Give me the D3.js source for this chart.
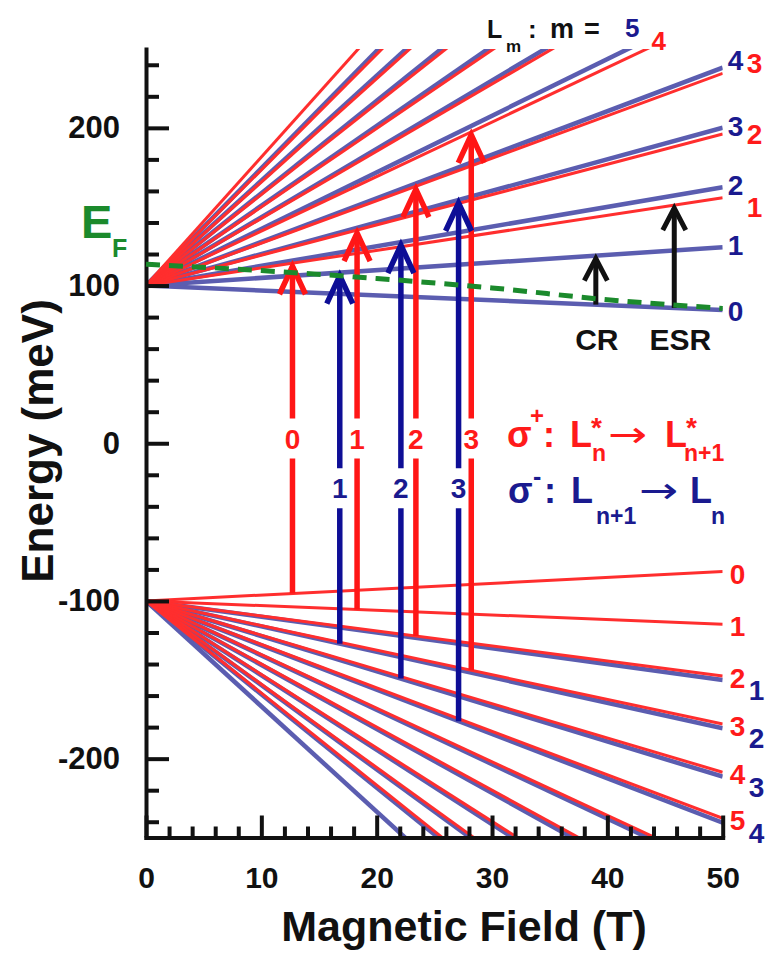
<!DOCTYPE html>
<html lang="en">

<head>
  <meta charset="UTF-8">
  <title>Landau levels vs magnetic field</title>
  <style>
    body {
      margin: 0;
      background: #fff;
    }

    svg {
      display: block;
      font-family: 'Liberation Sans', Arial, sans-serif;
      font-weight: bold;
    }

    .axis path,
    .axis line {
      stroke: #111;
      stroke-width: 4;
    }

    .axis .domain {
      stroke-linecap: square;
    }

    .axis text {
      fill: #111;
      font-family: 'Liberation Sans', Arial, sans-serif;
      font-weight: bold;
    }
  </style>
</head>

<body>
  <svg></svg>
</body>
<script src="https://cdn.jsdelivr.net/npm/d3@7"></script>
<script>

  // field range and the two fan origins (meV at B = 0)
  let fieldMax = 50;
  let upperStart = 100;
  let lowerStart = -100;

  // energy of each level at B = 50 T (levels past the frame get clipped)
  let upperBlueN = [0, 1, 2, 3, 4, 5, 6, 7, 8, 9, 10];
  let upperBlueE50 = [84.5, 124.3, 162.3, 200.1, 238.2, 279.5, 316.8, 353, 393, 432.6, 472];
  let upperRedN = [1, 2, 3, 4, 5, 6, 7, 8, 9, 10];
  let upperRedE50 = [155.7, 196.1, 234.6, 272.8, 313, 349, 388.5, 428, 466.7, 507.6];
  let lowerRedN = [0, 1, 2, 3, 4, 5, 6, 7, 8, 9, 10];
  let lowerRedE50 = [-81.4, -114.8, -147.6, -178, -208.6, -237.8, -270, -300, -333, -364, -392];
  let lowerBlueN = [1, 2, 3, 4, 5, 6, 7, 8, 9, 10];
  let lowerBlueE50 = [-150.1, -180.7, -211.4, -240.6, -272.5, -303, -336, -367, -396, -434];

  // Fermi level (green dashed)
  let fermiB = [0, 10, 20, 30, 40, 50];
  let fermiE = [113.5, 109.5, 104.5, 98.5, 91, 85.5];

  // optical transitions: field where each arrow is drawn
  let sigmaPlusN = [0, 1, 2, 3];      // L*n -> L*n+1
  let sigmaPlusB = [12.7, 18.3, 23.4, 28.2];
  let sigmaMinusN = [1, 2, 3];        // Ln+1 -> Ln
  let sigmaMinusB = [16.8, 22.1, 27.1];
  let crB = 39;
  let esrB = 45.8;

  // ticks
  let yMajor = [-200, -100, 0, 100, 200];
  let yMinor = d3.range(-240, 241, 20).filter(v => v % 100 !== 0);
  let xMajor = [0, 10, 20, 30, 40, 50];
  let xMinor = d3.range(2, 50, 2).filter(v => v % 10 !== 0);

  let blueLine = '#5b5db0',
    redLine = '#ff2e2e',
    blueArrow = '#0e0e96',
    redArrow = '#ff1616',
    blueText = '#1a1a8f',
    redText = '#ff1a1a',
    green = '#1b8a2c',
    black = '#111';

  let width = 778,
    height = 959;

  let svg = d3.select('svg')
    .attr('width', width)
    .attr('height', height);

  let x = d3.scaleLinear().domain([0, fieldMax]).range([146, 722.7]);
  let y = d3.scaleLinear().domain([-250, 250]).range([837.5, 49]);

  svg.append('defs').append('clipPath')
    .attr('id', 'plot')
    .append('rect')
    .attr('x', x(0))
    .attr('y', y(250))
    .attr('width', x(fieldMax) - x(0))
    .attr('height', y(-250) - y(250));

  function energyAt(e0, e50, B) {
    return e0 + (e50 - e0) * B / fieldMax;
  }

  function level(set, n) {
    if (set === 'upperBlue') return { e0: upperStart, e50: upperBlueE50[upperBlueN.indexOf(n)] };
    if (set === 'upperRed') return { e0: upperStart, e50: upperRedE50[upperRedN.indexOf(n)] };
    if (set === 'lowerBlue') return { e0: lowerStart, e50: lowerBlueE50[lowerBlueN.indexOf(n)] };
    return { e0: lowerStart, e50: lowerRedE50[lowerRedN.indexOf(n)] };
  }

  function levelE(set, n, B) {
    let l = level(set, n);
    return energyAt(l.e0, l.e50, B);
  }

  // field where a level leaves the frame through the top
  function topCross(set, n) {
    let l = level(set, n);
    return fieldMax * (250 - l.e0) / (l.e50 - l.e0);
  }

  // ---- Landau levels ----
  let levels = [];
  upperBlueN.forEach((n, i) => levels.push({ kind: 'blue', e0: upperStart, e50: upperBlueE50[i] }));
  lowerBlueN.forEach((n, i) => levels.push({ kind: 'blue', e0: lowerStart, e50: lowerBlueE50[i] }));
  upperRedN.forEach((n, i) => levels.push({ kind: 'red', e0: upperStart, e50: upperRedE50[i] }));
  lowerRedN.forEach((n, i) => levels.push({ kind: 'red', e0: lowerStart, e50: lowerRedE50[i] }));

  let gLevels = svg.append('g').attr('clip-path', 'url(#plot)');

  gLevels.selectAll('.level')
    .data(levels)
    .enter()
    .append('line')
    .attr('class', d => 'level ' + d.kind)
    .attr('x1', x(0))
    .attr('y1', d => y(d.e0))
    .attr('x2', x(fieldMax))
    .attr('y2', d => y(d.e50))
    .attr('stroke', d => d.kind === 'blue' ? blueLine : redLine)
    .attr('stroke-width', d => d.kind === 'blue' ? 4.5 : 3);

  // ---- axes ----
  let gy = svg.append('g')
    .attr('class', 'axis')
    .attr('transform', `translate(${x(0)},0)`);

  gy.call(d3.axisLeft(y)
    .tickValues(yMajor)
    .tickSizeInner(-23)
    .tickSizeOuter(0)
    .tickPadding(26)
    .tickFormat(d => String(d)));

  gy.selectAll('text').style('font-size', '31px');

  gy.append('g')
    .call(d3.axisLeft(y).tickValues(yMinor).tickSize(-13).tickFormat(''))
    .call(g => g.select('.domain').remove());

  let gx = svg.append('g')
    .attr('class', 'axis')
    .attr('transform', `translate(0,${y(-250)})`);

  gx.call(d3.axisBottom(x)
    .tickValues(xMajor)
    .tickSizeInner(-22)
    .tickSizeOuter(0)
    .tickPadding(29)
    .tickFormat(d => String(d)));

  gx.selectAll('text').style('font-size', '30px');

  gx.append('g')
    .call(d3.axisBottom(x).tickValues(xMinor).tickSize(-11).tickFormat(''))
    .call(g => g.select('.domain').remove());

  function txt(px, py, s, size, color, anchor) {
    return svg.append('text')
      .attr('x', px)
      .attr('y', py)
      .attr('text-anchor', anchor || 'start')
      .style('font-size', size + 'px')
      .attr('fill', color)
      .text(s);
  }

  // one text element built from absolutely placed pieces (sub/superscripts)
  function rich(color, parts) {
    let t = svg.append('text').attr('fill', color);
    parts.forEach(p => {
      t.append('tspan')
        .attr('x', p[0])
        .attr('y', p[1])
        .style('font-size', p[3] + 'px')
        .text(p[2]);
    });
    return t;
  }

  // long arrow glyph, a bit stretched like the one in the figure
  function longArrow(px, py, color) {
    svg.append('text')
      .attr('transform', `translate(${px},${py}) scale(1.3,1)`)
      .style('font-family', "'DejaVu Sans', sans-serif")
      .style('font-weight', 'normal')
      .style('font-size', '36px')
      .attr('fill', color)
      .text('→');
  }

  svg.append('text')
    .attr('transform', 'translate(53,441) rotate(-90)')
    .attr('text-anchor', 'middle')
    .style('font-size', '44px')
    .attr('fill', black)
    .text('Energy (meV)');

  txt(464, 941, 'Magnetic Field (T)', 43, black, 'middle');

  // ---- arrows ----
  let gArrows = svg.append('g');

  function arrow(B, eFrom, eTo, color, sw, headW, headH, label, labelE) {
    let ax = x(B),
      y0 = y(eFrom),
      tip = y(eTo) + 3;

    let segs = [[y0, tip]];
    if (label !== undefined) {
      let ly = y(labelE);
      segs = [[y0, ly + 20], [ly - 20, tip]];
      txt(ax, ly, label, 28, color === redArrow ? redText : blueText, 'middle')
        .attr('dy', '0.36em');
    }

    segs.forEach(s => {
      gArrows.append('line')
        .attr('x1', ax).attr('x2', ax)
        .attr('y1', s[0]).attr('y2', s[1])
        .attr('stroke', color)
        .attr('stroke-width', sw);
    });

    gArrows.append('path')
      .attr('d', `M${ax - headW},${tip + headH}L${ax},${tip}L${ax + headW},${tip + headH}`)
      .attr('fill', 'none')
      .attr('stroke', color)
      .attr('stroke-width', sw)
      .attr('stroke-linejoin', 'miter');
  }

  sigmaPlusN.forEach((n, i) => {
    let B = sigmaPlusB[i];
    arrow(B, levelE('lowerRed', n, B), levelE('upperRed', n + 1, B), redArrow, 5.5, 13, 28, String(n), 3);
  });

  sigmaMinusN.forEach((n, i) => {
    let B = sigmaMinusB[i];
    arrow(B, levelE('lowerBlue', n + 1, B), levelE('upperBlue', n, B), blueArrow, 5.5, 13, 28, String(n), -28.5);
  });

  arrow(crB, levelE('upperBlue', 0, crB), levelE('upperBlue', 1, crB), black, 5, 11.5, 22);
  arrow(esrB, levelE('upperBlue', 0, esrB), levelE('upperRed', 1, esrB), black, 5, 11.5, 22);

  txt(x(crB) + 1, 350, 'CR', 30, black, 'middle');
  txt(x(esrB) + 6, 350, 'ESR', 30, black, 'middle');

  // ---- Fermi level ----
  let fermiLine = d3.line()
    .x((d, i) => x(fermiB[i]))
    .y(d => y(d))
    .curve(d3.curveMonotoneX);

  svg.append('path')
    .datum(fermiE)
    .attr('d', fermiLine)
    .attr('fill', 'none')
    .attr('stroke', green)
    .attr('stroke-width', 5)
    .attr('stroke-dasharray', '14,9');

  rich(green, [[81, 238, 'E', 47], [112, 257, 'F', 25]]);

  // ---- level labels on the right ----
  let xr = x(fieldMax);
  let upperBlueLabels = [0, 1, 2, 3, 4];
  let upperBlueNudge = [1, -2, -2, -2, -8];
  let upperRedLabels = [1, 2, 3];
  let upperRedNudge = [9, 0, -10];

  upperBlueLabels.forEach((n, i) => {
    txt(xr + 5, y(levelE('upperBlue', n, fieldMax)) + upperBlueNudge[i], String(n), 28, blueText)
      .attr('dy', '0.36em');
  });
  upperRedLabels.forEach((n, i) => {
    txt(xr + 24, y(levelE('upperRed', n, fieldMax)) + upperRedNudge[i], String(n), 28, redText)
      .attr('dy', '0.36em');
  });

  let lowerRedLabels = [0, 1, 2, 3, 4, 5];
  let lowerBlueLabels = [1, 2, 3, 4];

  lowerRedLabels.forEach(n => {
    txt(xr + 7, y(levelE('lowerRed', n, fieldMax)) + 2, String(n), 28, redText)
      .attr('dy', '0.36em');
  });
  lowerBlueLabels.forEach(n => {
    txt(xr + 26, y(levelE('lowerBlue', n, fieldMax)) + 10, String(n), 28, blueText)
      .attr('dy', '0.36em');
  });

  // top: L_m: m = 5 4
  rich(black, [[487, 38, 'L', 25], [506, 52, 'm', 17], [528, 38, ':', 26], [550, 38, 'm', 27], [584, 38, '=', 27]]);
  txt(x(topCross('upperBlue', 5)) - 3, 37, '5', 26, blueText);
  txt(x(topCross('upperRed', 4)) + 5, 50, '4', 26, redText);

  // ---- selection rules ----
  rich(redText, [[507, 447, 'σ', 36], [530, 424, '+', 24], [543, 447, ':', 36],
    [570, 447, 'L', 36], [591, 437, '*', 28], [592, 461, 'n', 23]]);
  longArrow(608, 447, redText);
  rich(redText, [[665, 447, 'L', 36], [686, 437, '*', 28], [684, 461, 'n+1', 23]]);

  rich(blueText, [[508, 503, 'σ', 36], [533, 485, '-', 25], [544, 503, ':', 36],
    [571, 503, 'L', 36], [596, 524, 'n+1', 23]]);
  longArrow(639, 503, blueText);
  rich(blueText, [[690, 503, 'L', 36], [711, 524, 'n', 23]]);
</script>

</html>
